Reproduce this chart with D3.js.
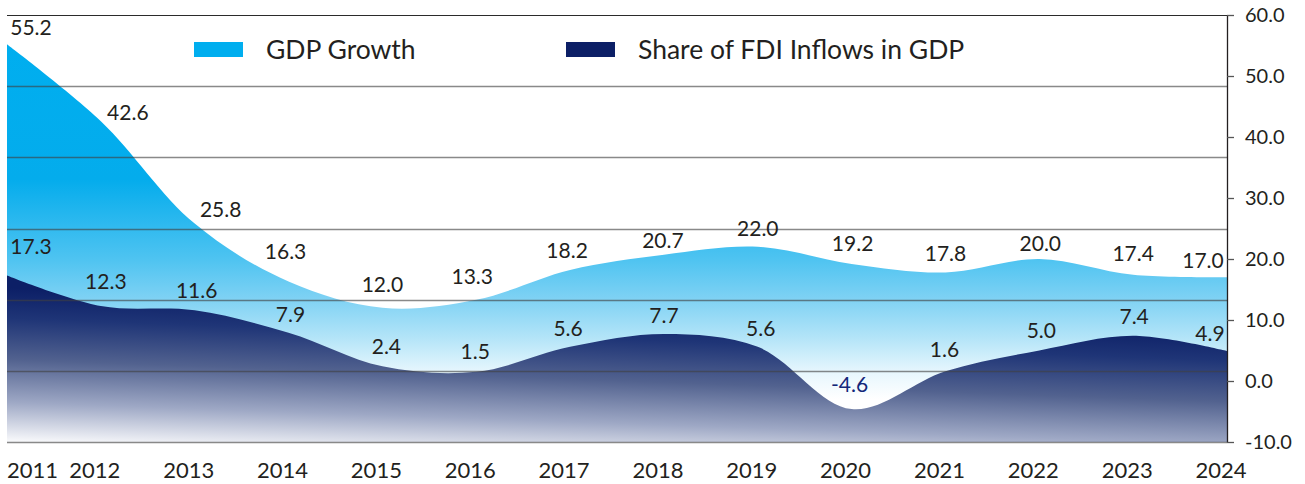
<!DOCTYPE html>
<html>
<head>
<meta charset="utf-8">
<script src="https://cdn.jsdelivr.net/npm/d3@7"></script>
<style>
  body { margin: 0; background: #fff; }
  svg { display: block; font-family: Lato, "Noto Sans", sans-serif; }
</style>
</head>
<body>
<svg width="1305" height="484"></svg>
<script>
// data
var years = ["2011", "2012", "2013", "2014", "2015", "2016", "2017", "2018", "2019", "2020", "2021", "2022", "2023", "2024"];
var gdpGrowth = [55.2, 42.6, 25.8, 16.3, 12.0, 13.3, 18.2, 20.7, 22.0, 19.2, 17.8, 20.0, 17.4, 17.0];
var fdiShare = [17.3, 12.3, 11.6, 7.9, 2.4, 1.5, 5.6, 7.7, 5.6, -4.6, 1.6, 5.0, 7.4, 4.9];
var yTicks = [60, 50, 40, 30, 20, 10, 0, -10];
var seriesNames = ["GDP Growth", "Share of FDI Inflows in GDP"];

// label nudges (px) so the numbers sit like in the original
var gdpNudge = [[24, -17], [27, -9], [26, -14], [-3, -30], [0, -23], [-4, -23], [-3, -19], [-1, -14], [0, -18], [1, -20], [0, -19], [1, -16], [0, -21], [-24, -17]];
var fdiNudge = [[24, -29], [5, -24], [2, -20], [2, -18], [4, -20], [-1, -20], [-2, -18], [0, -19], [3, -18], [-2, -25], [-1, -22], [2, -20], [1, -19], [-17, -18]];

var svg = d3.select("svg"),
    plotLeft = 7, plotRight = 1227, plotTop = 15, plotBottom = 442;

var x = d3.scalePoint().domain(years).range([plotLeft, plotRight]);
var y = d3.scaleLinear().domain([-10, 60]).range([plotBottom, plotTop]);

var defs = svg.append("defs");

var gGrad = defs.append("linearGradient")
    .attr("id", "gdpGrad")
    .attr("gradientUnits", "userSpaceOnUse")
    .attr("x1", 0).attr("x2", 0)
    .attr("y1", y(55.2)).attr("y2", y(-3));
[[0, "#00aeef"], [0.38, "#04acec"], [0.61, "#50c4f1"], [0.72, "#80d2f4"], [0.83, "#b5e5f8"], [0.92, "#e5f6fd"], [1, "#ffffff"]]
  .forEach(function(s) { gGrad.append("stop").attr("offset", s[0]).attr("stop-color", s[1]); });

var fGrad = defs.append("linearGradient")
    .attr("id", "fdiGrad")
    .attr("gradientUnits", "userSpaceOnUse")
    .attr("x1", 7).attr("y1", 288)
    .attr("x2", 1.75).attr("y2", 440);
[[0, "#0c1f66"], [0.2, "#1f3577"], [0.47, "#52628f"], [0.75, "#9ea8c5"], [1, "#f6f7fa"]]
  .forEach(function(s) { fGrad.append("stop").attr("offset", s[0]).attr("stop-color", s[1]); });

var area = d3.area()
    .curve(d3.curveCatmullRom)
    .x(function(d, i) { return x(years[i]); })
    .y0(plotBottom)
    .y1(function(d) { return y(d); });

svg.append("path").datum(gdpGrowth)
    .attr("fill", "url(#gdpGrad)")
    .attr("d", area);

svg.append("path").datum(fdiShare)
    .attr("fill", "url(#fdiGrad)")
    .attr("d", area);

// gridlines split the plot in six equal bands
var gridVals = d3.range(7).map(function(k) { return -10 + k * 70 / 6; });
svg.append("g").selectAll("line")
  .data(gridVals)
  .enter().append("line")
    .attr("x1", plotLeft).attr("x2", plotRight)
    .attr("y1", function(d) { return Math.round(y(d)) + 0.5; })
    .attr("y2", function(d) { return Math.round(y(d)) + 0.5; })
    .attr("stroke", function(d, i) { return i == 6 ? "#2b2b2b" : "#404040"; })
    .attr("stroke-opacity", function(d, i) { return i == 6 ? 1 : 0.62; })
    .attr("stroke-width", function(d, i) { return i == 6 ? 1.2 : 1.6; });

// right axis
var axis = svg.append("g")
    .attr("transform", "translate(" + plotRight + ",0)")
    .call(d3.axisRight(y)
      .tickValues(yTicks)
      .tickSize(7)
      .tickSizeOuter(0)
      .tickPadding(11)
      .tickFormat(function(d) { return d.toFixed(1); }));
axis.select(".domain").attr("stroke", "#231f20").attr("stroke-width", 1.3);
axis.selectAll(".tick line").attr("stroke", "#555").attr("stroke-width", 1.3);
axis.selectAll(".tick text")
    .attr("fill", "#231f20")
    .style("font-family", "Lato, sans-serif")
    .style("font-size", "20px");

// year labels
svg.append("g").selectAll("text")
  .data(years)
  .enter().append("text")
    .attr("x", function(d, i) { return i == 0 ? plotLeft : x(d) - 6; })
    .attr("y", 478)
    .attr("text-anchor", function(d, i) { return i == 0 ? "start" : "middle"; })
    .attr("fill", "#231f20")
    .style("font-size", "22px")
    .text(function(d) { return d; });

// value labels
function labels(values, nudge, color) {
  svg.append("g").selectAll("text")
    .data(values)
    .enter().append("text")
      .attr("x", function(d, i) { return x(years[i]) + nudge[i][0]; })
      .attr("y", function(d, i) { return y(d) + nudge[i][1] + 7.5; })
      .attr("text-anchor", "middle")
      .attr("fill", function(d) { return d < 0 ? "#13277a" : color; })
      .style("font-size", "21px")
      .text(function(d) { return d.toFixed(1); });
}
labels(gdpGrowth, gdpNudge, "#231f20");
labels(fdiShare, fdiNudge, "#231f20");

// legend
var legendX = [194, 566];
var legendColor = ["#00aeef", "#0c1f66"];
var legend = svg.append("g").selectAll("g")
  .data(seriesNames)
  .enter().append("g")
    .attr("transform", function(d, i) { return "translate(" + legendX[i] + ",42)"; });
legend.append("rect")
    .attr("width", 49).attr("height", 15)
    .attr("fill", function(d, i) { return legendColor[i]; });
legend.append("text")
    .attr("x", 72).attr("y", 17)
    .attr("fill", "#231f20")
    .style("font-size", "26.5px")
    .text(function(d) { return d; });
</script>
</body>
</html>
